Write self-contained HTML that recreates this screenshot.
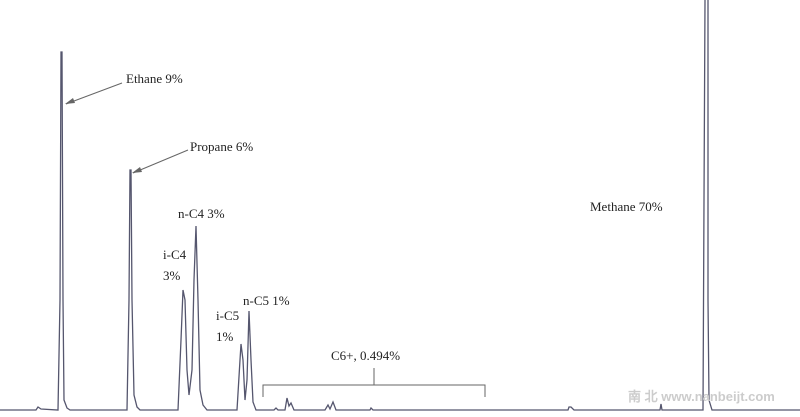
<!DOCTYPE html>
<html><head><style>
body{margin:0;background:#fff}
svg{display:block}
text{font-family:"Liberation Serif",serif;font-size:13px;fill:#222}
</style></head><body>
<svg width="800" height="417" viewBox="0 0 800 417">
<g fill="none" stroke="#55566e" stroke-width="1.3">
<path d="M0 410 L36 410 L38 407 L41 409 L58 410 L60 300 L61 52 L62 52 L63 300 L64 400 L67 408 L70 410 L127 410 L129 300 L130 170 L131 170 L132 300 L134 395 L137 407 L140 410 L178 410 L181 340 L183 290 L185 300 L187 370 L189 395 L192 370 L194 280 L196 226 L198 300 L200 390 L203 405 L207 410 L237 410 L240 360 L241 344 L243 360 L245 400 L247 380 L249 311 L251 360 L253 402 L256 410 L274 410 L276 408 L278 410 L285 410 L287 398 L289 406 L291 403 L294 410 L325 410 L328 405 L330 409 L333 402 L336 410 L370 410 L371 408 L373 410 L568 410 L569 407 L571 407 L574 410 L660 410 L661 404 L662 410 L703 410 L704 200 L705 0 M708 0 L708 300 L709 400 L712 410 L800 410"/>
</g>
<g fill="none" stroke="#666" stroke-width="1">
<line x1="66" y1="104" x2="122" y2="83"/>
<line x1="133" y1="173" x2="188" y2="150"/>
<path d="M263 397 L263 385 L485 385 L485 397 M374 385 L374 368"/>
</g>
<g fill="#666">
<polygon points="65,104 73,98 75,103"/>
<polygon points="132,173 140,167 142,172"/>
</g>
<text x="126" y="83">Ethane 9%</text>
<text x="190" y="151">Propane 6%</text>
<text x="178" y="218">n-C4 3%</text>
<text x="163" y="259">i-C4</text>
<text x="163" y="280">3%</text>
<text x="243" y="305">n-C5 1%</text>
<text x="216" y="320">i-C5</text>
<text x="216" y="341">1%</text>
<text x="331" y="360">C6+, 0.494%</text>
<text x="590" y="211">Methane 70%</text>
<text x="628" y="401" style="font-family:'Liberation Sans',sans-serif;font-size:13px;font-weight:bold;fill:#ccc">南 北 www.nanbeijt.com</text>
</svg>
</body></html>
